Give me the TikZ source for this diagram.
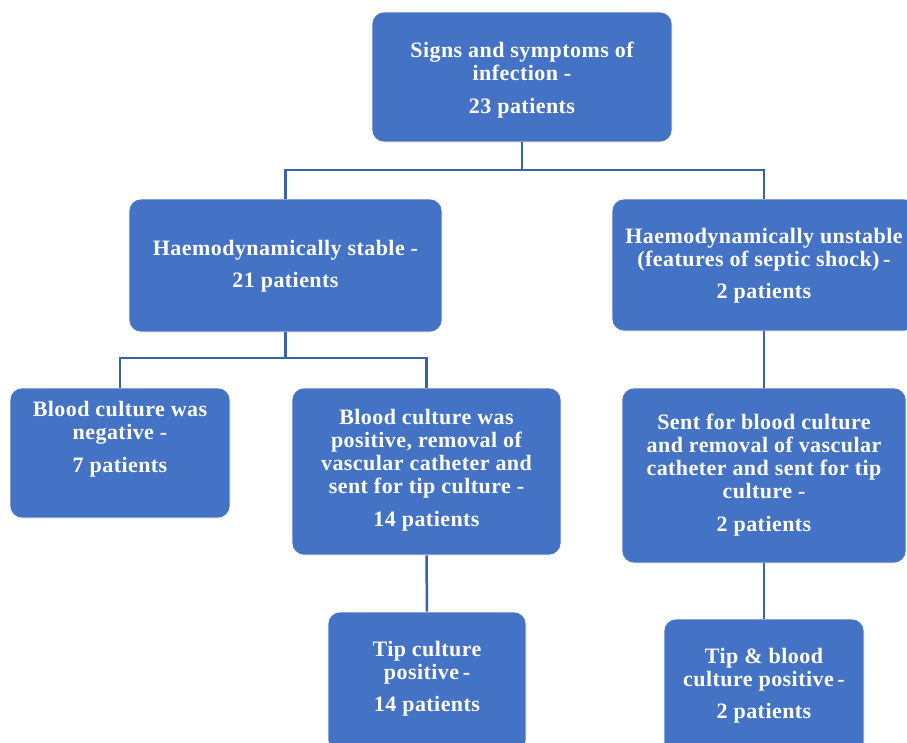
\documentclass[tikz,border=0pt]{standalone}
\usepackage{fontspec}
\setmainfont{Liberation Serif}[LetterSpace=2]
\definecolor{boxfill}{HTML}{4472C4}
\definecolor{linecol}{HTML}{3A62AA}
\begin{document}
\begin{tikzpicture}[x=1pt,y=-1pt,
  box/.style={rectangle, rounded corners=12pt, fill=boxfill, draw=white, line width=0.6pt, inner sep=0pt},
  txt/.style={anchor=north, align=center, inner sep=0pt, text=white,
    font=\fontsize{22}{23}\selectfont\bfseries},
  conn/.style={draw=linecol, line width=2.5pt}]
\useasboundingbox (0,0) rectangle (907,742);
\clip (0,0) rectangle (907,742);
% boxes
\node[box, minimum width=300pt, minimum height=130pt] (top) at (522,77) {};
\node[box, minimum width=313pt, minimum height=133pt] (stable) at (285.5,265.5) {};
\node[box, minimum width=304pt, minimum height=132pt] (unstable) at (764,265) {};
\node[box, minimum width=220pt, minimum height=130pt] (neg) at (120,453) {};
\node[box, minimum width=269pt, minimum height=167pt] (pos) at (426.5,471.5) {};
\node[box, minimum width=284pt, minimum height=175pt] (sent) at (764,475.5) {};
\node[box, minimum width=198pt, minimum height=140pt] (tipa) at (427,682) {};
\node[box, minimum width=200pt, minimum height=141pt] (tipb) at (764,689.5) {};
% texts
\node[txt] (ttop) at (522,42) {Signs and symptoms of\\infection -\\[10pt]23 patients};
\node[txt] (tstable) at (285.5,240) {Haemodynamically stable -\\[9pt]21 patients};
\node[txt] (tunstable) at (764,228) {Haemodynamically unstable\\(features  of septic shock)\,-\\[9pt]2 patients};
\node[txt] (tneg) at (120,401) {Blood culture was\\negative -\\[10pt]7 patients};
\node[txt] (tpos) at (426.5,409) {Blood culture was\\positive, removal of\\vascular catheter and\\sent for tip culture -\\[10pt]14 patients};
\node[txt] (tsent) at (764,414) {Sent for blood culture\\and removal of vascular\\catheter and sent for tip\\culture -\\[10pt]2 patients};
\node[txt] (ttipa) at (427,641) {Tip culture\\positive\,-\\[9pt]14 patients};
\node[txt] (ttipb) at (764,648) {Tip \& blood\\culture positive\,-\\[9pt]2 patients};
% connectors
\coordinate (j1) at (522,170);
\coordinate (j2) at (285.5,358);
\draw[conn] (top.south) -- (j1) -| (stable.north);
\draw[conn] (j1) -| (unstable.north);
\draw[conn] (stable.south) -- (j2) -| (neg.north);
\draw[conn] (j2) -| (pos.north);
\draw[conn] (unstable.south) -- (sent.north);
\draw[conn] (pos.south) -- (tipa.north);
\draw[conn] (sent.south) -- (tipb.north);
\end{tikzpicture}
\end{document}
